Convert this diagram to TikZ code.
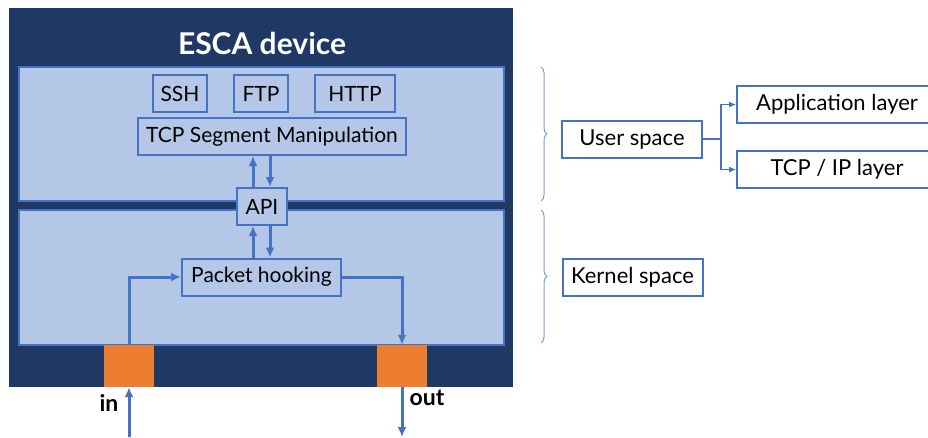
\documentclass[tikz,border=0pt]{standalone}
\usepackage{fontspec}
\setmainfont{Lato}
\usetikzlibrary{arrows.meta,decorations.pathreplacing}

\definecolor{marino}{HTML}{203864}
\definecolor{panel}{HTML}{B4C7E7}
\definecolor{azul}{HTML}{4472C4}
\definecolor{naranja}{HTML}{ED7D31}

\tikzset{
  caja/.style={draw=azul, line width=2pt, fill=panel, minimum height=37pt,
    inner sep=0pt, font=\fontsize{21}{25}\selectfont},
  capa/.style={caja, fill=white, font=\fontsize{22}{26}\selectfont},
  puerto/.style={fill=naranja, minimum width=50pt, minimum height=42pt, inner sep=0pt},
  flecha/.style={azul, line width=3pt, -{Latex[length=10pt,width=9pt]}},
  linea/.style={azul, line width=1.1pt},
  llave/.style={azul!70, line width=1pt, decorate,
    decoration={brace, amplitude=6pt, aspect=0.5}}
}

\begin{document}
\begin{tikzpicture}[x=1pt,y=-1pt]

    \useasboundingbox (0,0) rectangle (928,437);

    % caja del dispositivo
    \fill[marino] (9,8) rectangle (513,387);
    \node[text=white, font=\bfseries\fontsize{30}{36}\selectfont] (titulo) at (262,43) {ESCA device};

    % espacio de usuario / espacio de kernel
    \draw[azul, line width=1.2pt, fill=panel] (19,67) rectangle (504,201);
    \draw[azul, line width=1.2pt, fill=panel] (19,210) rectangle (504,345);

    % protocolos
    \node[caja, minimum width=54pt] (ssh) at (180,93.5) {SSH};
    \node[caja, minimum width=54pt] (ftp) at (261,93.5) {FTP};
    \node[caja, minimum width=80pt] (http) at (355,93.5) {HTTP};
    \node[caja, minimum width=268pt] (tcp) at (272,136.5) {TCP Segment Manipulation};
    \node[caja, minimum width=50pt] (api) at (262,206.5) {API};
    \node[caja, minimum width=159pt] (hook) at (261.5,277) {Packet hooking};

    % puertos
    \node[puerto] (pin) at (129,366) {};
    \node[puerto] (pout) at (402,366) {};
    \coordinate (entrada) at (129,437);
    \coordinate (salida) at (402,437);

    % flechas
    \draw[flecha] ([xshift=-8.5pt]hook.north) -- ([xshift=-8.5pt]hook.north |- api.south);
    \draw[flecha] ([xshift=8.5pt]hook.north |- api.south) -- ([xshift=8.5pt]hook.north);
    \draw[flecha] ([xshift=-8.5pt]hook.north |- api.north) -- ([xshift=-8.5pt]hook.north |- tcp.south);
    \draw[flecha] ([xshift=8.5pt]hook.north |- tcp.south) -- ([xshift=8.5pt]hook.north |- api.north);
    \draw[flecha] (pin.north) |- (hook.west);
    \draw[flecha] (hook.east) -| (pout.north);
    \draw[flecha] (entrada) -- (pin.south);
    \draw[flecha] (pout.south) -- (salida);

    \node[font=\bfseries\fontsize{23}{27}\selectfont] (lin) at (109,403) {in};
    \node[font=\bfseries\fontsize{23}{27}\selectfont] (lout) at (427,398) {out};

    % leyendas
    \draw[llave] (541,67) -- (541,201);
    \draw[llave] (541,210) -- (541,343);
    \node[capa, minimum width=140pt] (user) at (632,139) {User space};
    \node[capa, minimum width=140pt] (kernel) at (632.5,277) {Kernel space};
    \node[capa, minimum width=200pt] (app) at (837,104.5) {Application layer};
    \node[capa, minimum width=200pt] (tcpip) at (837,169.5) {TCP / IP layer};

    \draw[linea] (user.east) -- ++(18,0) coordinate (rama);
    \draw[linea, -{Latex[length=7pt,width=6pt]}] (rama) |- (app.west);
    \draw[linea, -{Latex[length=7pt,width=6pt]}] (rama) |- (tcpip.west);

\end{tikzpicture}
\end{document}
